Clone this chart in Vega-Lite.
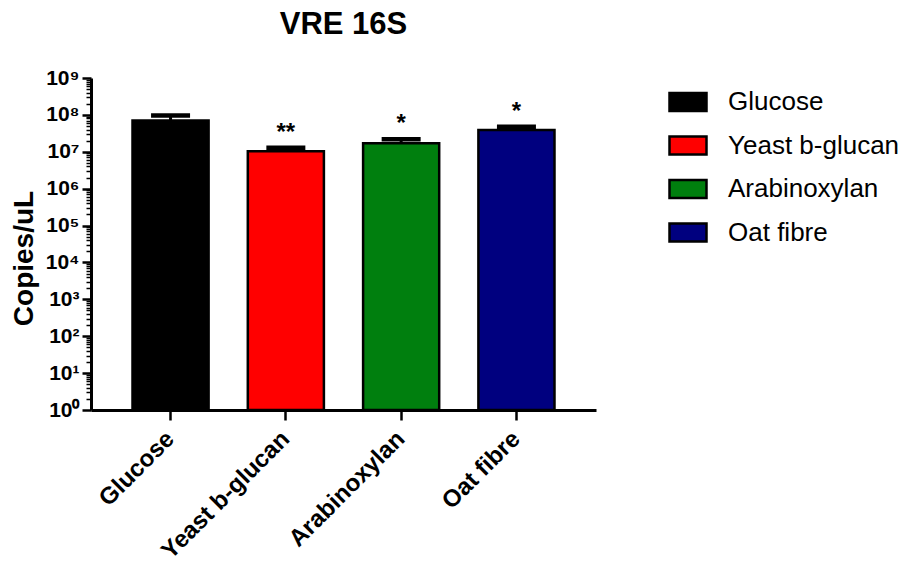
{
  "$schema": "https://vega.github.io/schema/vega-lite/v6.json",
  "autosize": "none",
  "width": 505,
  "height": 332,
  "padding": {"left": 91, "top": 78, "right": 314, "bottom": 158},
  "background": "white",
  "config": {"view": {"stroke": null}, "font": "Liberation Sans"},
  "title": {"text": "VRE 16S", "fontSize": 31, "fontWeight": "bold", "color": "black", "anchor": "middle", "offset": 26, "font": "Liberation Sans"},
  "data": {"values": [
    {"name": "Glucose", "value": 70000000, "upper": 97000000, "sig": ""},
    {"name": "Yeast b-glucan", "value": 10300000, "upper": 12900000, "sig": "**"},
    {"name": "Arabinoxylan", "value": 17000000, "upper": 21800000, "sig": "*"},
    {"name": "Oat fibre", "value": 39000000, "upper": 48000000, "sig": "*"}
  ]},
  "encoding": {
    "x": {"field": "name", "type": "nominal", "sort": null,
      "scale": {"paddingInner": 0.34, "paddingOuter": 0.36},
      "axis": {"title": null, "labelAngle": -45, "labelAlign": "right", "labelBaseline": "middle", "labelFontSize": 24, "labelFontWeight": "bold", "labelColor": "black", "labelPadding": 15, "tickSize": 10, "tickWidth": 2.5, "tickColor": "black", "domainWidth": 3, "domainColor": "black", "labelFont": "Liberation Sans", "labelLimit": 300}}
  },
  "layer": [
    {
      "mark": {"type": "bar", "stroke": "black", "strokeWidth": 2.5},
      "encoding": {
        "y": {"field": "value", "type": "quantitative",
          "scale": {"type": "log", "domain": [1, 1000000000], "nice": false},
          "axis": {"orient": "left", "title": "Copies/uL", "titleFontSize": 28, "titleFontWeight": "bold", "titleColor": "black", "titlePadding": 7, "titleFont": "Liberation Sans", "titleY": 180,
            "values": [1,2,3,4,5,6,7,8,9,10,20,30,40,50,60,70,80,90,100,200,300,400,500,600,700,800,900,1000,2000,3000,4000,5000,6000,7000,8000,9000,10000,20000,30000,40000,50000,60000,70000,80000,90000,100000,200000,300000,400000,500000,600000,700000,800000,900000,1000000,2000000,3000000,4000000,5000000,6000000,7000000,8000000,9000000,10000000,20000000,30000000,40000000,50000000,60000000,70000000,80000000,90000000,100000000,200000000,300000000,400000000,500000000,600000000,700000000,800000000,900000000,1000000000],
            "labelExpr": "abs(log(datum.value)/LN10 - round(log(datum.value)/LN10)) < 0.001 ? '10' + ['⁰','¹','²','³','⁴','⁵','⁶','⁷','⁸','⁹'][round(log(datum.value)/LN10)] : ''",
            "labelFontSize": 21, "labelFontWeight": "bold", "labelColor": "black", "labelPadding": 3, "labelFont": "Liberation Sans", "labelOverlap": false,
            "tickSize": {"condition": {"test": "abs(log(datum.value)/LN10 - round(log(datum.value)/LN10)) < 0.001", "value": 9}, "value": 5},
            "tickWidth": {"condition": {"test": "abs(log(datum.value)/LN10 - round(log(datum.value)/LN10)) < 0.001", "value": 2.5}, "value": 1.5},
            "tickColor": "black", "domainWidth": 3, "domainColor": "black", "grid": false}},
        "y2": {"datum": 1},
        "fill": {"field": "name", "type": "nominal", "sort": null,
          "scale": {"domain": ["Glucose", "Yeast b-glucan", "Arabinoxylan", "Oat fibre"], "range": ["#000000", "#ff0000", "#007f0e", "#00007f"]},
          "legend": {"title": null, "orient": "none", "legendX": 577, "legendY": 4, "padding": 0,
            "symbolType": "M-1,-0.486H1V0.486H-1Z", "symbolSize": 1369, "symbolStrokeColor": "black", "symbolStrokeWidth": 2.5,
            "labelFontSize": 26, "labelColor": "black", "labelOffset": 20, "rowPadding": 9.5, "labelFont": "Liberation Sans", "labelLimit": 300, "symbolOpacity": 1}}
      }
    },
    {
      "mark": {"type": "rule", "color": "black", "strokeWidth": 3},
      "encoding": {
        "y": {"field": "value", "type": "quantitative"},
        "y2": {"field": "upper"}
      }
    },
    {
      "mark": {"type": "tick", "color": "black", "size": 39, "thickness": 4.5, "opacity": 1},
      "encoding": {
        "y": {"field": "upper", "type": "quantitative"}
      }
    },
    {
      "mark": {"type": "text", "fontSize": 24, "fontWeight": "bold", "color": "black", "baseline": "alphabetic", "dy": -8, "font": "Liberation Sans"},
      "encoding": {
        "y": {"field": "upper", "type": "quantitative"},
        "text": {"field": "sig"}
      }
    }
  ]
}
